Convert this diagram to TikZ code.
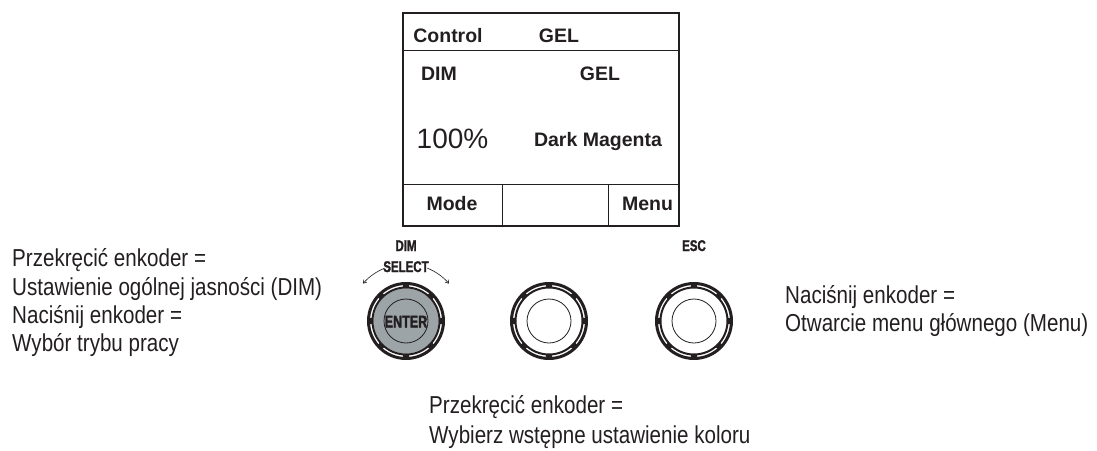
\documentclass[tikz,border=0pt]{standalone}
\usepackage{fontspec}
\setmainfont{Liberation Sans}
\newfontfamily\narrowfont[FakeStretch=0.84]{Liberation Sans}
\newfontfamily\knobfont[FakeStretch=0.74, FakeBold=1.6, UprightFont={* Bold}]{Liberation Sans}
\usetikzlibrary{arrows.meta}
\definecolor{ink}     {HTML}{231F20}
\definecolor{knobgrey}{HTML}{9CA4A7}
\tikzset{
  lcd/.style   ={font=\bfseries\fontsize{19.5}{22}\selectfont, text=ink,
                 inner sep=0pt, anchor=base},
  lcdbig/.style={font=\fontsize{28}{32}\selectfont, text=ink,
                 inner sep=0pt, anchor=base},
  frame/.style ={draw=ink, line width=2.5pt},
  rule/.style  ={draw=ink, line width=1pt},
  keylbl/.style={font=\knobfont\fontsize{15.5}{15.5}\selectfont, text=ink,
                 inner sep=0pt, anchor=base},
  note/.style  ={font=\narrowfont\fontsize{24.5}{28.3}\selectfont, text=ink,
                 align=left, inner sep=0pt, anchor=base west},
  turn/.style  ={-{Straight Barb[length=3pt,width=4pt]}, draw=ink,
                 line width=0.6pt},
  knob/.pic    ={
    \coordinate (-c) at (0,0);
    \draw[ink, line width=3pt] (0,0) circle (37.5pt);
    \draw[ink, line width=2pt] (0,0) circle (33.5pt);
    \foreach \a in {0,45,...,315}
      \draw[ink, line width=5pt] (\a-5:35.75pt)
        arc[start angle=\a-5, end angle=\a+5, radius=35.75pt];
    \draw[ink, line width=0.8pt] (0,0) circle (22pt);
  }
}
\begin{document}
\begin{tikzpicture}[x=1pt, y=-1pt]
\useasboundingbox (0,0) rectangle (1097,450);

\draw[frame] (403,13) rectangle (679,226);
\draw[rule] (403,50) -- (679,50);
\draw[rule] (403,184) -- (679,184);
\draw[rule] (502,184) -- (502,226);
\draw[rule] (608,184) -- (608,226);

\node[lcd] (ctrl)  at (448,42)   {Control};
\node[lcd] (gelA)  at (559,42)   {GEL};
\node[lcd] (dimA)  at (439,80)   {DIM};
\node[lcd] (gelB)  at (600,80)   {GEL};
\node[lcdbig] (pct) at (452.5,148) {100\%};
\node[lcd] (color) at (598,146)  {Dark Magenta};
\node[lcd] (mode)  at (452,210)  {Mode};
\node[lcd] (menu)  at (647.5,210) {Menu};

\fill[knobgrey] (406,321) circle (32.5pt);
\pic (k1) at (406,321) {knob};
\pic (k2) at (549,321) {knob};
\pic (k3) at (694,321) {knob};

\node[keylbl] (dimB)   at (406,251) {DIM};
\node[keylbl] (select) at (406,272) {SELECT};
\node[keylbl] (esc)    at (694,251) {ESC};
\node[keylbl, font=\knobfont\fontsize{17}{17}\selectfont]
  (enter) at (406,327.5) {ENTER};

\draw[turn] ([shift={(68:57pt)}]k1-c)
  arc[start angle=68, end angle=41, radius=57pt];
\draw[turn] ([shift={(112:57pt)}]k1-c)
  arc[start angle=112, end angle=139, radius=57pt];

\node[note] (left) at (12,351.7)
  {Przekręcić enkoder =\\ Ustawienie ogólnej jasności (DIM)\\
   Naciśnij enkoder =\\ Wybór trybu pracy};
\node[note] (right) at (785,331.7)
  {Naciśnij enkoder =\\ Otwarcie menu głównego (Menu)};
\node[note, font=\narrowfont\fontsize{24.5}{30}\selectfont] (bottom) at (429,443)
  {Przekręcić enkoder =\\ Wybierz wstępne ustawienie koloru};
\end{tikzpicture}
\end{document}
